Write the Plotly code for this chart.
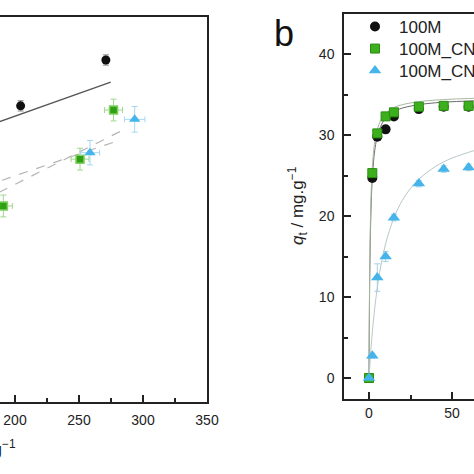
import plotly.graph_objects as go

# ---------------- Panel a (left, cropped) ----------------
a_black_x = [204.4, 271.0]
a_black_y = [9.23, 10.66]
a_black_ex = [2.0, 2.0]
a_black_ey = [0.16, 0.16]

a_green_x = [190.9, 250.8, 277.0]
a_green_y = [6.11, 7.57, 9.10]
a_green_ex = [7.0, 7.0, 7.0]
a_green_ey = [0.34, 0.34, 0.34]

a_blue_x = [258.6, 293.5]
a_blue_y = [7.77, 8.81]
a_blue_ex = [7.5, 8.0]
a_blue_ey = [0.38, 0.40]

a_fit_black_x = [150.0, 274.8]
a_fit_black_y = [8.20, 9.97]
a_fit_green_x = [150.0, 277.3]
a_fit_green_y = [6.37, 8.10]
a_fit_blue_x = [150.0, 287.5]
a_fit_blue_y = [5.78, 8.54]

a_xticks = [200, 250, 300, 350]

# ---------------- Panel b (right, cropped) ----------------
b_t = [0, 2, 5, 10, 15, 30, 45, 60]
b_q_100M = [0, 24.7, 29.8, 30.7, 32.3, 33.2, 33.5, 33.5]
b_q_cn1 = [0, 25.3, 30.2, 32.3, 32.8, 33.5, 33.6, 33.6]
b_q_cn2 = [0, 2.75, 12.4, 15.0, 19.8, 24.0, 25.8, 26.0]
b_q_cn2_err = [0, 0.3, 1.7, 0.6, 0.4, 0.4, 0.4, 0.4]

fit_t = [0, 0.1, 0.25, 0.5, 1, 1.5, 2, 3, 4, 5, 7, 10, 15, 20, 30, 40, 50, 65]
fit_q_100M = [0, 3.82, 8.19, 13.25, 19.18, 22.53, 24.69, 27.31, 28.84, 29.83,
              31.07, 32.07, 32.89, 33.32, 33.75, 33.98, 34.11, 34.23]
fit_q_cn1 = [0, 4.45, 9.34, 14.74, 20.73, 23.97, 26.01, 28.42, 29.81, 30.69,
             31.79, 32.67, 33.38, 33.74, 34.12, 34.31, 34.43, 34.54]
fit_t_cn2 = [0, 0.25, 0.5, 1, 2, 3, 4, 5, 7, 10, 15, 20, 25, 30, 40, 50, 65]
fit_q_cn2 = [0, 0.83, 1.62, 3.08, 5.62, 7.76, 9.58, 11.15, 13.71, 16.57,
             19.78, 21.91, 23.41, 24.54, 26.11, 27.15, 28.18]

names = ["100M", "100M_CNC", "100M_CNF"]

BLACK = "#111111"
GREEN = "#3cb01c"
GREEN_EDGE = "#2a8c10"
BLUE = "#45b4ea"

fig = go.Figure()

# Panel a fits
fig.add_trace(go.Scatter(x=a_fit_black_x, y=a_fit_black_y, mode="lines",
                         line=dict(color="#555555", width=1.2),
                         xaxis="x", yaxis="y", showlegend=False))
fig.add_trace(go.Scatter(x=a_fit_green_x, y=a_fit_green_y, mode="lines",
                         line=dict(color="#b5b5b5", width=1.2, dash="dash"),
                         xaxis="x", yaxis="y", showlegend=False))
fig.add_trace(go.Scatter(x=a_fit_blue_x, y=a_fit_blue_y, mode="lines",
                         line=dict(color="#b5b5b5", width=1.2, dash="dash"),
                         xaxis="x", yaxis="y", showlegend=False))

# Panel a points
fig.add_trace(go.Scatter(
    x=a_black_x, y=a_black_y, mode="markers",
    marker=dict(symbol="circle", size=9, color=BLACK),
    error_x=dict(type="data", array=a_black_ex, color="#888888", thickness=1, width=3),
    error_y=dict(type="data", array=a_black_ey, color="#888888", thickness=1, width=3),
    xaxis="x", yaxis="y", showlegend=False))
fig.add_trace(go.Scatter(
    x=a_green_x, y=a_green_y, mode="markers",
    marker=dict(symbol="square", size=8, color="#2ea012",
                line=dict(color="#7fd060", width=1.5)),
    error_x=dict(type="data", array=a_green_ex, color="#9fd88a", thickness=1, width=3),
    error_y=dict(type="data", array=a_green_ey, color="#9fd88a", thickness=1, width=3),
    xaxis="x", yaxis="y", showlegend=False))
fig.add_trace(go.Scatter(
    x=a_blue_x, y=a_blue_y, mode="markers",
    marker=dict(symbol="triangle-up", size=10, color=BLUE),
    error_x=dict(type="data", array=a_blue_ex, color="#a6d8f0", thickness=1, width=3),
    error_y=dict(type="data", array=a_blue_ey, color="#a6d8f0", thickness=1, width=3),
    xaxis="x", yaxis="y", showlegend=False))

# Panel b fits
fig.add_trace(go.Scatter(x=fit_t, y=fit_q_100M, mode="lines",
                         line=dict(color="#6b6b6b", width=1, shape="spline"),
                         xaxis="x2", yaxis="y2", showlegend=False))
fig.add_trace(go.Scatter(x=fit_t, y=fit_q_cn1, mode="lines",
                         line=dict(color="#a8b8a0", width=1, shape="spline"),
                         xaxis="x2", yaxis="y2", showlegend=False))
fig.add_trace(go.Scatter(x=fit_t_cn2, y=fit_q_cn2, mode="lines",
                         line=dict(color="#b8c8c8", width=1, shape="spline"),
                         xaxis="x2", yaxis="y2", showlegend=False))

# Panel b points (one legend per entry so the rows can be spaced like the original)
fig.add_trace(go.Scatter(
    x=b_t, y=b_q_100M, mode="markers", name=names[0],
    marker=dict(symbol="circle", size=10, color=BLACK),
    xaxis="x2", yaxis="y2", legend="legend"))
fig.add_trace(go.Scatter(
    x=b_t, y=b_q_cn1, mode="markers", name=names[1],
    marker=dict(symbol="square", size=9, color=GREEN,
                line=dict(color=GREEN_EDGE, width=1)),
    xaxis="x2", yaxis="y2", legend="legend2"))
fig.add_trace(go.Scatter(
    x=b_t, y=b_q_cn2, mode="markers", name=names[2],
    marker=dict(symbol="triangle-up", size=11, color=BLUE),
    error_y=dict(type="data", array=b_q_cn2_err, color="#a6d0e0", thickness=1, width=3),
    xaxis="x2", yaxis="y2", legend="legend3"))

W = H = 474
AX = "#222222"
FONT = "Liberation Sans, Arial, sans-serif"
tickfont = dict(family=FONT, size=14, color="#222222")


def leg(ypix):
    return dict(x=351 / W, y=1 - ypix / H, xanchor="left", yanchor="middle",
                bgcolor="rgba(0,0,0,0)", borderwidth=0, itemwidth=38,
                font=dict(family=FONT, size=17, color="#222222"))


fig.update_layout(
    width=W, height=H,
    margin=dict(l=0, r=0, t=0, b=0, autoexpand=False),
    paper_bgcolor="white", plot_bgcolor="white",
    font=dict(family=FONT, color="#222222"),
    xaxis=dict(domain=[0, 207 / W], range=[188.28, 350.0],
               tickvals=a_xticks, ticks="inside", ticklen=7, tickwidth=1.5,
               tickcolor=AX, showline=True, linecolor=AX, linewidth=1.5,
               mirror=True, showgrid=False, zeroline=False,
               minor=dict(ticks="inside", ticklen=4, tickwidth=1.5,
                          tickcolor=AX, dtick=25, showgrid=False),
               tickfont=tickfont, ticklabelstandoff=4, anchor="y"),
    yaxis=dict(domain=[(H - 402) / H, (H - 17) / H], range=[0, 12],
               side="right", showline=True, linecolor=AX, linewidth=1.5,
               mirror=False, showticklabels=False, ticks="",
               showgrid=False, zeroline=False, anchor="x"),
    xaxis2=dict(domain=[344 / W, 1.0], range=[-15.06, 63.25],
                tickvals=[0, 50], ticks="inside", ticklen=7, tickwidth=1.5,
                tickcolor=AX, showline=True, linecolor=AX, linewidth=1.5,
                mirror=True, showgrid=False, zeroline=False,
                minor=dict(ticks="inside", ticklen=4, tickwidth=1.5,
                           tickcolor=AX, dtick=25, showgrid=False),
                tickfont=tickfont, anchor="y2"),
    yaxis2=dict(domain=[(H - 399) / H, (H - 14) / H], range=[-2.59, 44.94],
                tickvals=[0, 10, 20, 30, 40], ticks="inside", ticklen=7,
                tickwidth=1.5, tickcolor=AX, showline=True, linecolor=AX,
                linewidth=1.5, mirror=False, showgrid=False, zeroline=False,
                minor=dict(ticks="inside", ticklen=4, tickwidth=1.5,
                           tickcolor=AX, dtick=5, showgrid=False),
                tickfont=tickfont, ticklabelstandoff=5, anchor="x2"),
    legend=leg(27),
    legend2=leg(49),
    legend3=leg(71),
    annotations=[
        dict(text="b", x=284 / W, y=1 - 33 / H, xref="paper", yref="paper",
             xanchor="center", yanchor="middle", showarrow=False,
             font=dict(family=FONT, size=36, color="#111111")),
        dict(text="<i>q</i><sub>t</sub> / mg.g<sup>\u22121</sup>",
             x=297 / W, y=1 - 206 / H, xref="paper", yref="paper",
             xanchor="center", yanchor="middle", textangle=-90,
             showarrow=False,
             font=dict(family=FONT, size=17, color="#222222")),
        dict(text="<i>q</i><sub>e</sub> / mg.g<sup>\u22121</sup>",
             x=18 / W, y=1 - 449 / H, xref="paper", yref="paper",
             xanchor="right", yanchor="middle", showarrow=False,
             font=dict(family=FONT, size=17, color="#222222")),
    ],
)

fig.write_html("out.html",
               config={"displayModeBar": False},
               post_script="document.body.style.margin='0px';"
                           "document.body.style.padding='0px';"
                           "document.body.style.overflow='hidden';")
